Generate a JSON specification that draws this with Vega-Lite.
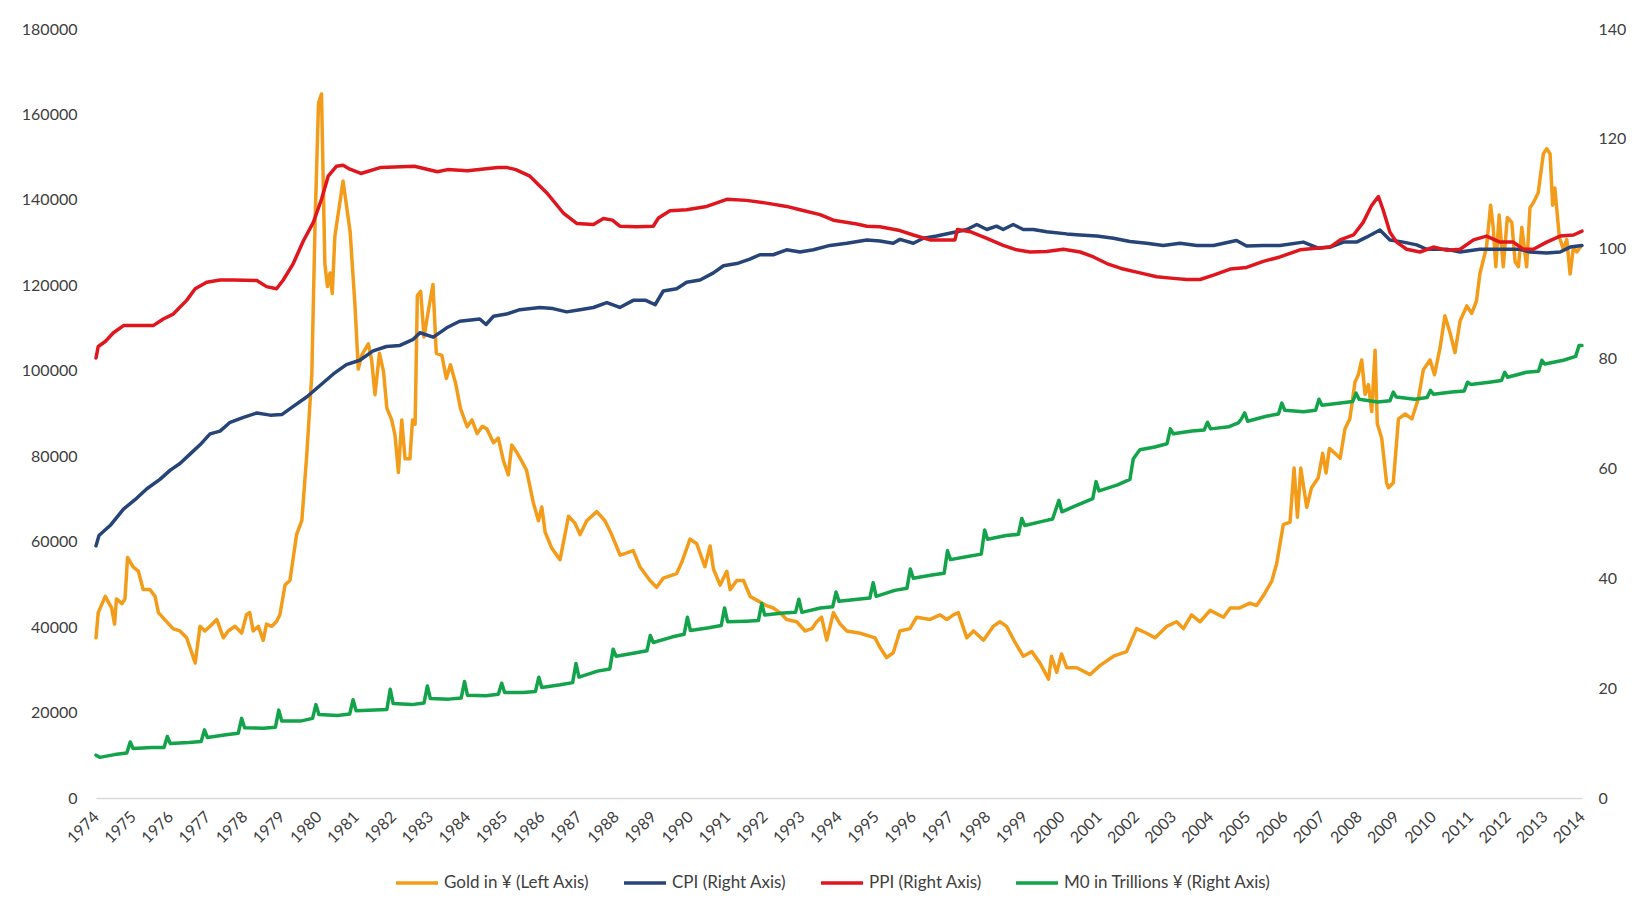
{
"$schema": "https://vega.github.io/schema/vega-lite/v6.json",
"width": 1486,
"height": 769,
"autosize": {"type": "none"},
"padding": {"left": 96, "top": 29, "right": 63, "bottom": 111},
"background": "white",
"config": {"view": {"stroke": null}, "font": "Lato", "line": {"strokeWidth": 3.5, "strokeJoin": "round", "strokeCap": "round"}},
"datasets": {
"gold": [
{"t":1974.0,"v":37500},{"t":1974.06,"v":43400},{"t":1974.25,"v":47200},{"t":1974.42,"v":44500},{"t":1974.5,"v":40700},{"t":1974.55,"v":46600},{"t":1974.7,"v":45500},{"t":1974.78,"v":46600},{"t":1974.85,"v":56300},{"t":1975.0,"v":54100},{"t":1975.14,"v":53100},{"t":1975.27,"v":48800},{"t":1975.45,"v":48800},{"t":1975.59,"v":47200},{"t":1975.68,"v":43400},{"t":1975.9,"v":41300},{"t":1976.08,"v":39600},{"t":1976.26,"v":39100},{"t":1976.44,"v":37500},{"t":1976.67,"v":31600},{"t":1976.8,"v":40200},{"t":1976.93,"v":39100},{"t":1977.07,"v":40200},{"t":1977.25,"v":41800},{"t":1977.43,"v":37500},{"t":1977.56,"v":39100},{"t":1977.74,"v":40200},{"t":1977.92,"v":38600},{"t":1978.05,"v":42900},{"t":1978.14,"v":43400},{"t":1978.23,"v":39100},{"t":1978.37,"v":40200},{"t":1978.5,"v":36900},{"t":1978.59,"v":40700},{"t":1978.73,"v":40200},{"t":1978.86,"v":41300},{"t":1978.95,"v":42900},{"t":1979.09,"v":49900},{"t":1979.22,"v":50900},{"t":1979.4,"v":61700},{"t":1979.54,"v":64900},{"t":1979.67,"v":79900},{"t":1979.81,"v":99300},{"t":1979.9,"v":135800},{"t":1979.99,"v":162700},{"t":1980.07,"v":164800},{"t":1980.16,"v":125100},{"t":1980.23,"v":119700},{"t":1980.3,"v":122900},{"t":1980.36,"v":118100},{"t":1980.43,"v":131500},{"t":1980.65,"v":144400},{"t":1980.84,"v":132600},{"t":1980.97,"v":115400},{"t":1981.06,"v":100400},{"t":1981.15,"v":103600},{"t":1981.33,"v":106300},{"t":1981.42,"v":102500},{"t":1981.51,"v":94400},{"t":1981.63,"v":104100},{"t":1981.74,"v":99800},{"t":1981.83,"v":91200},{"t":1981.96,"v":88500},{"t":1982.05,"v":84800},{"t":1982.14,"v":76200},{"t":1982.23,"v":88500},{"t":1982.32,"v":79400},{"t":1982.45,"v":79400},{"t":1982.52,"v":88500},{"t":1982.59,"v":87500},{"t":1982.65,"v":117600},{"t":1982.74,"v":118600},{"t":1982.83,"v":107900},{"t":1982.95,"v":114300},{"t":1983.07,"v":120200},{"t":1983.16,"v":104100},{"t":1983.31,"v":103600},{"t":1983.43,"v":98200},{"t":1983.54,"v":101400},{"t":1983.68,"v":97100},{"t":1983.81,"v":91200},{"t":1983.99,"v":86900},{"t":1984.12,"v":88500},{"t":1984.26,"v":85300},{"t":1984.4,"v":87000},{"t":1984.52,"v":86400},{"t":1984.7,"v":83160},{"t":1984.83,"v":84240},{"t":1984.97,"v":78860},{"t":1985.1,"v":75640},{"t":1985.19,"v":82620},{"t":1985.32,"v":81010},{"t":1985.46,"v":78860},{"t":1985.59,"v":76710},{"t":1985.77,"v":69190},{"t":1985.91,"v":64890},{"t":1986.0,"v":68110},{"t":1986.09,"v":62200},{"t":1986.27,"v":58440},{"t":1986.49,"v":55750},{"t":1986.72,"v":65960},{"t":1986.89,"v":64350},{"t":1987.03,"v":61660},{"t":1987.21,"v":64890},{"t":1987.48,"v":67040},{"t":1987.7,"v":64890},{"t":1987.88,"v":61660},{"t":1988.11,"v":56830},{"t":1988.29,"v":57370},{"t":1988.46,"v":57900},{"t":1988.64,"v":54140},{"t":1988.91,"v":50920},{"t":1989.09,"v":49310},{"t":1989.27,"v":51460},{"t":1989.63,"v":52530},{"t":1989.77,"v":55220},{"t":1989.99,"v":60590},{"t":1990.17,"v":59520},{"t":1990.39,"v":54140},{"t":1990.53,"v":58980},{"t":1990.62,"v":53600},{"t":1990.8,"v":49840},{"t":1990.98,"v":53070},{"t":1991.07,"v":48770},{"t":1991.25,"v":50920},{"t":1991.43,"v":50920},{"t":1991.61,"v":47160},{"t":1991.83,"v":46080},{"t":1992.05,"v":45010},{"t":1992.23,"v":44470},{"t":1992.41,"v":43400},{"t":1992.59,"v":41790},{"t":1992.86,"v":41250},{"t":1993.09,"v":39100},{"t":1993.27,"v":39640},{"t":1993.4,"v":41250},{"t":1993.53,"v":42320},{"t":1993.67,"v":36950},{"t":1993.85,"v":43400},{"t":1994.03,"v":40710},{"t":1994.21,"v":39100},{"t":1994.57,"v":38560},{"t":1994.97,"v":37490},{"t":1995.1,"v":35300},{"t":1995.28,"v":32870},{"t":1995.46,"v":34000},{"t":1995.64,"v":39100},{"t":1995.91,"v":39640},{"t":1996.09,"v":42320},{"t":1996.45,"v":41790},{"t":1996.72,"v":42860},{"t":1996.9,"v":41790},{"t":1997.08,"v":42860},{"t":1997.21,"v":43400},{"t":1997.44,"v":37490},{"t":1997.62,"v":39100},{"t":1997.89,"v":36950},{"t":1998.15,"v":40170},{"t":1998.33,"v":41250},{"t":1998.51,"v":40170},{"t":1998.74,"v":36410},{"t":1998.96,"v":33190},{"t":1999.19,"v":34260},{"t":1999.41,"v":31570},{"t":1999.64,"v":27820},{"t":1999.72,"v":33190},{"t":1999.86,"v":29430},{"t":1999.99,"v":33720},{"t":2000.13,"v":30500},{"t":2000.4,"v":30500},{"t":2000.76,"v":28890},{"t":2001.03,"v":31040},{"t":2001.39,"v":33190},{"t":2001.74,"v":34260},{"t":2002.01,"v":39640},{"t":2002.28,"v":38560},{"t":2002.51,"v":37490},{"t":2002.82,"v":40170},{"t":2003.09,"v":41250},{"t":2003.27,"v":39640},{"t":2003.49,"v":42860},{"t":2003.72,"v":41250},{"t":2003.99,"v":43930},{"t":2004.35,"v":42320},{"t":2004.53,"v":44470},{"t":2004.79,"v":44500},{"t":2005.06,"v":45620},{"t":2005.24,"v":45040},{"t":2005.42,"v":47340},{"t":2005.65,"v":50790},{"t":2005.78,"v":54810},{"t":2005.96,"v":64010},{"t":2006.14,"v":64590},{"t":2006.25,"v":77240},{"t":2006.34,"v":65740},{"t":2006.43,"v":77240},{"t":2006.59,"v":68040},{"t":2006.72,"v":72640},{"t":2006.9,"v":74940},{"t":2007.02,"v":80690},{"t":2007.11,"v":76090},{"t":2007.2,"v":81830},{"t":2007.35,"v":80690},{"t":2007.49,"v":79540},{"t":2007.62,"v":86440},{"t":2007.75,"v":88730},{"t":2007.89,"v":97360},{"t":2007.98,"v":99080},{"t":2008.07,"v":102530},{"t":2008.16,"v":94480},{"t":2008.25,"v":96780},{"t":2008.34,"v":90460},{"t":2008.43,"v":104830},{"t":2008.49,"v":87580},{"t":2008.61,"v":84130},{"t":2008.74,"v":73790},{"t":2008.79,"v":72640},{"t":2008.92,"v":73790},{"t":2009.06,"v":88730},{"t":2009.24,"v":89880},{"t":2009.42,"v":88730},{"t":2009.59,"v":93330},{"t":2009.73,"v":100230},{"t":2009.91,"v":102530},{"t":2010.03,"v":99080},{"t":2010.18,"v":105410},{"t":2010.31,"v":112880},{"t":2010.45,"v":108860},{"t":2010.58,"v":104250},{"t":2010.72,"v":111730},{"t":2010.9,"v":115180},{"t":2011.03,"v":113450},{"t":2011.16,"v":116330},{"t":2011.25,"v":122650},{"t":2011.43,"v":128970},{"t":2011.54,"v":138740},{"t":2011.61,"v":133570},{"t":2011.68,"v":124370},{"t":2011.77,"v":136440},{"t":2011.88,"v":124370},{"t":2011.99,"v":135870},{"t":2012.11,"v":134720},{"t":2012.2,"v":125520},{"t":2012.29,"v":124370},{"t":2012.38,"v":133570},{"t":2012.51,"v":124370},{"t":2012.6,"v":138170},{"t":2012.69,"v":139320},{"t":2012.82,"v":141620},{"t":2012.96,"v":150820},{"t":2013.05,"v":151970},{"t":2013.14,"v":150820},{"t":2013.21,"v":138740},{"t":2013.27,"v":142770},{"t":2013.39,"v":131270},{"t":2013.5,"v":128400},{"t":2013.59,"v":130700},{"t":2013.68,"v":122650},{"t":2013.77,"v":128970},{"t":2013.86,"v":127820},{"t":2013.96,"v":128970}
],
"cpi": [
{"t":1974.0,"v":45.9},{"t":1974.08,"v":47.8},{"t":1974.38,"v":49.6},{"t":1974.74,"v":52.6},{"t":1975.1,"v":54.6},{"t":1975.37,"v":56.3},{"t":1975.72,"v":58.0},{"t":1976.0,"v":59.7},{"t":1976.26,"v":60.9},{"t":1976.53,"v":62.6},{"t":1976.8,"v":64.3},{"t":1977.07,"v":66.3},{"t":1977.34,"v":66.8},{"t":1977.61,"v":68.4},{"t":1977.97,"v":69.3},{"t":1978.33,"v":70.1},{"t":1978.69,"v":69.7},{"t":1979.0,"v":69.8},{"t":1979.31,"v":71.3},{"t":1979.67,"v":73.0},{"t":1980.03,"v":75.1},{"t":1980.39,"v":77.2},{"t":1980.74,"v":78.9},{"t":1981.1,"v":79.7},{"t":1981.46,"v":81.4},{"t":1981.82,"v":82.2},{"t":1982.18,"v":82.4},{"t":1982.54,"v":83.5},{"t":1982.72,"v":84.7},{"t":1983.08,"v":83.9},{"t":1983.44,"v":85.6},{"t":1983.79,"v":86.8},{"t":1984.33,"v":87.2},{"t":1984.5,"v":86.2},{"t":1984.7,"v":87.7},{"t":1985.05,"v":88.1},{"t":1985.41,"v":88.9},{"t":1985.95,"v":89.3},{"t":1986.3,"v":89.1},{"t":1986.67,"v":88.5},{"t":1987.03,"v":88.9},{"t":1987.39,"v":89.3},{"t":1987.75,"v":90.2},{"t":1988.1,"v":89.3},{"t":1988.46,"v":90.6},{"t":1988.8,"v":90.6},{"t":1989.05,"v":89.8},{"t":1989.27,"v":92.3},{"t":1989.63,"v":92.7},{"t":1989.9,"v":93.9},{"t":1990.26,"v":94.3},{"t":1990.62,"v":95.6},{"t":1990.89,"v":96.9},{"t":1991.25,"v":97.3},{"t":1991.6,"v":98.1},{"t":1991.87,"v":98.9},{"t":1992.23,"v":98.9},{"t":1992.59,"v":99.8},{"t":1992.95,"v":99.4},{"t":1993.31,"v":99.8},{"t":1993.76,"v":100.6},{"t":1994.21,"v":101.0},{"t":1994.75,"v":101.6},{"t":1995.1,"v":101.4},{"t":1995.46,"v":101.0},{"t":1995.64,"v":101.7},{"t":1996.0,"v":101.0},{"t":1996.27,"v":101.9},{"t":1996.63,"v":102.3},{"t":1997.17,"v":103.1},{"t":1997.44,"v":103.5},{"t":1997.71,"v":104.4},{"t":1997.98,"v":103.5},{"t":1998.24,"v":104.1},{"t":1998.42,"v":103.5},{"t":1998.69,"v":104.4},{"t":1998.96,"v":103.5},{"t":1999.23,"v":103.5},{"t":1999.59,"v":103.1},{"t":2000.13,"v":102.7},{"t":2000.49,"v":102.5},{"t":2000.94,"v":102.3},{"t":2001.39,"v":101.9},{"t":2001.83,"v":101.3},{"t":2002.28,"v":101.0},{"t":2002.73,"v":100.6},{"t":2003.18,"v":101.0},{"t":2003.63,"v":100.6},{"t":2004.08,"v":100.6},{"t":2004.7,"v":101.5},{"t":2004.97,"v":100.5},{"t":2005.42,"v":100.6},{"t":2005.87,"v":100.6},{"t":2006.5,"v":101.2},{"t":2006.9,"v":100.1},{"t":2007.22,"v":100.3},{"t":2007.58,"v":101.2},{"t":2007.93,"v":101.2},{"t":2008.2,"v":102.1},{"t":2008.56,"v":103.4},{"t":2008.83,"v":101.6},{"t":2009.19,"v":101.2},{"t":2009.55,"v":100.7},{"t":2009.82,"v":99.9},{"t":2010.36,"v":99.9},{"t":2010.72,"v":99.4},{"t":2011.25,"v":99.9},{"t":2011.79,"v":99.9},{"t":2012.33,"v":99.9},{"t":2012.6,"v":99.4},{"t":2013.05,"v":99.2},{"t":2013.41,"v":99.4},{"t":2013.68,"v":100.3},{"t":2014.0,"v":100.6}
],
"ppi": [
{"t":1974.0,"v":80.1},{"t":1974.06,"v":82.2},{"t":1974.25,"v":83.1},{"t":1974.47,"v":84.7},{"t":1974.74,"v":86.0},{"t":1975.0,"v":86.0},{"t":1975.54,"v":86.0},{"t":1975.81,"v":87.2},{"t":1976.08,"v":88.1},{"t":1976.44,"v":90.6},{"t":1976.67,"v":92.7},{"t":1976.98,"v":93.9},{"t":1977.34,"v":94.3},{"t":1977.7,"v":94.3},{"t":1978.33,"v":94.2},{"t":1978.59,"v":93.1},{"t":1978.86,"v":92.7},{"t":1979.04,"v":94.3},{"t":1979.31,"v":97.3},{"t":1979.58,"v":101.4},{"t":1979.85,"v":104.8},{"t":1980.07,"v":109.0},{"t":1980.25,"v":113.2},{"t":1980.47,"v":115.0},{"t":1980.65,"v":115.2},{"t":1980.8,"v":114.6},{"t":1981.13,"v":113.7},{"t":1981.67,"v":114.8},{"t":1982.57,"v":115.0},{"t":1983.19,"v":114.0},{"t":1983.46,"v":114.4},{"t":1984.0,"v":114.2},{"t":1984.81,"v":114.8},{"t":1985.05,"v":114.8},{"t":1985.3,"v":114.4},{"t":1985.68,"v":113.2},{"t":1986.13,"v":110.2},{"t":1986.58,"v":106.5},{"t":1986.94,"v":104.6},{"t":1987.39,"v":104.4},{"t":1987.66,"v":105.5},{"t":1987.9,"v":105.2},{"t":1988.1,"v":104.1},{"t":1988.55,"v":104.0},{"t":1989.0,"v":104.1},{"t":1989.14,"v":105.6},{"t":1989.45,"v":106.9},{"t":1989.9,"v":107.1},{"t":1990.44,"v":107.7},{"t":1990.98,"v":109.0},{"t":1991.51,"v":108.8},{"t":1992.05,"v":108.3},{"t":1992.59,"v":107.7},{"t":1992.95,"v":107.1},{"t":1993.49,"v":106.2},{"t":1993.85,"v":105.2},{"t":1994.48,"v":104.5},{"t":1994.75,"v":104.1},{"t":1995.1,"v":104.0},{"t":1995.64,"v":103.3},{"t":1996.0,"v":102.5},{"t":1996.45,"v":101.6},{"t":1997.12,"v":101.6},{"t":1997.19,"v":103.5},{"t":1997.53,"v":103.1},{"t":1997.98,"v":101.9},{"t":1998.42,"v":100.6},{"t":1998.78,"v":99.8},{"t":1999.14,"v":99.4},{"t":1999.59,"v":99.5},{"t":2000.04,"v":99.9},{"t":2000.49,"v":99.4},{"t":2000.85,"v":98.5},{"t":2001.21,"v":97.3},{"t":2001.65,"v":96.3},{"t":2002.1,"v":95.6},{"t":2002.55,"v":94.9},{"t":2003.0,"v":94.6},{"t":2003.36,"v":94.4},{"t":2003.72,"v":94.4},{"t":2004.08,"v":95.2},{"t":2004.53,"v":96.3},{"t":2004.97,"v":96.6},{"t":2005.42,"v":97.7},{"t":2005.87,"v":98.5},{"t":2006.41,"v":99.8},{"t":2006.7,"v":100.0},{"t":2007.22,"v":100.3},{"t":2007.49,"v":101.6},{"t":2007.85,"v":102.5},{"t":2008.11,"v":104.8},{"t":2008.34,"v":107.9},{"t":2008.52,"v":109.5},{"t":2008.65,"v":107.0},{"t":2008.83,"v":103.0},{"t":2009.01,"v":101.2},{"t":2009.28,"v":99.9},{"t":2009.64,"v":99.4},{"t":2010.0,"v":100.3},{"t":2010.36,"v":99.7},{"t":2010.72,"v":99.9},{"t":2011.08,"v":101.6},{"t":2011.43,"v":102.3},{"t":2011.79,"v":101.2},{"t":2012.15,"v":101.2},{"t":2012.42,"v":99.9},{"t":2012.69,"v":99.9},{"t":2013.05,"v":101.2},{"t":2013.41,"v":102.3},{"t":2013.77,"v":102.5},{"t":2014.0,"v":103.2}
],
"m0": [
{"t":1974.0,"v":7.8},{"t":1974.1,"v":7.4},{"t":1974.5,"v":7.9},{"t":1974.83,"v":8.2},{"t":1974.92,"v":10.2},{"t":1975.0,"v":9.0},{"t":1975.5,"v":9.2},{"t":1975.83,"v":9.2},{"t":1975.92,"v":11.2},{"t":1976.0,"v":9.9},{"t":1976.5,"v":10.1},{"t":1976.83,"v":10.3},{"t":1976.92,"v":12.4},{"t":1977.0,"v":11.0},{"t":1977.5,"v":11.5},{"t":1977.83,"v":11.8},{"t":1977.92,"v":14.5},{"t":1978.0,"v":12.8},{"t":1978.5,"v":12.7},{"t":1978.83,"v":12.9},{"t":1978.92,"v":16.0},{"t":1979.0,"v":14.0},{"t":1979.5,"v":14.0},{"t":1979.83,"v":14.5},{"t":1979.92,"v":17.0},{"t":1980.0,"v":15.2},{"t":1980.5,"v":15.0},{"t":1980.83,"v":15.3},{"t":1980.92,"v":17.9},{"t":1981.0,"v":15.9},{"t":1981.5,"v":16.0},{"t":1981.83,"v":16.1},{"t":1981.92,"v":19.8},{"t":1982.0,"v":17.2},{"t":1982.5,"v":17.0},{"t":1982.83,"v":17.3},{"t":1982.92,"v":20.4},{"t":1983.0,"v":18.1},{"t":1983.5,"v":18.0},{"t":1983.83,"v":18.2},{"t":1983.92,"v":21.2},{"t":1984.0,"v":18.7},{"t":1984.5,"v":18.6},{"t":1984.83,"v":18.9},{"t":1984.92,"v":20.9},{"t":1985.0,"v":19.2},{"t":1985.5,"v":19.2},{"t":1985.83,"v":19.4},{"t":1985.92,"v":22.0},{"t":1986.0,"v":20.1},{"t":1986.5,"v":20.6},{"t":1986.83,"v":21.0},{"t":1986.92,"v":24.5},{"t":1987.0,"v":22.0},{"t":1987.5,"v":23.1},{"t":1987.83,"v":23.5},{"t":1987.92,"v":27.1},{"t":1988.0,"v":25.8},{"t":1988.5,"v":26.4},{"t":1988.83,"v":26.8},{"t":1988.92,"v":29.6},{"t":1989.0,"v":28.3},{"t":1989.5,"v":29.3},{"t":1989.83,"v":29.8},{"t":1989.92,"v":32.9},{"t":1990.0,"v":30.5},{"t":1990.5,"v":31.0},{"t":1990.83,"v":31.4},{"t":1990.92,"v":34.6},{"t":1991.0,"v":32.1},{"t":1991.5,"v":32.2},{"t":1991.83,"v":32.3},{"t":1991.92,"v":35.4},{"t":1992.0,"v":33.3},{"t":1992.5,"v":33.7},{"t":1992.83,"v":33.8},{"t":1992.92,"v":36.2},{"t":1993.0,"v":33.8},{"t":1993.5,"v":34.6},{"t":1993.83,"v":34.8},{"t":1993.92,"v":37.5},{"t":1994.0,"v":35.8},{"t":1994.5,"v":36.2},{"t":1994.83,"v":36.4},{"t":1994.92,"v":39.2},{"t":1995.0,"v":36.7},{"t":1995.5,"v":37.8},{"t":1995.83,"v":38.2},{"t":1995.92,"v":41.7},{"t":1996.0,"v":40.0},{"t":1996.5,"v":40.6},{"t":1996.83,"v":40.9},{"t":1996.92,"v":45.0},{"t":1997.0,"v":43.4},{"t":1997.5,"v":44.0},{"t":1997.83,"v":44.4},{"t":1997.92,"v":48.8},{"t":1998.0,"v":47.1},{"t":1998.5,"v":47.8},{"t":1998.83,"v":48.0},{"t":1998.92,"v":50.9},{"t":1999.0,"v":49.6},{"t":1999.5,"v":50.4},{"t":1999.75,"v":50.8},{"t":1999.92,"v":54.2},{"t":2000.0,"v":52.1},{"t":2000.3,"v":53.0},{"t":2000.83,"v":54.5},{"t":2000.92,"v":57.6},{"t":2001.0,"v":55.9},{"t":2001.5,"v":57.0},{"t":2001.83,"v":58.0},{"t":2001.92,"v":61.7},{"t":2002.0,"v":62.5},{"t":2002.1,"v":63.4},{"t":2002.5,"v":63.9},{"t":2002.83,"v":64.5},{"t":2002.92,"v":67.2},{"t":2003.0,"v":66.3},{"t":2003.5,"v":66.8},{"t":2003.83,"v":67.0},{"t":2003.92,"v":68.4},{"t":2004.0,"v":67.2},{"t":2004.5,"v":67.6},{"t":2004.75,"v":68.3},{"t":2004.83,"v":69.0},{"t":2004.92,"v":70.1},{"t":2005.0,"v":68.6},{"t":2005.5,"v":69.5},{"t":2005.83,"v":69.9},{"t":2005.92,"v":71.9},{"t":2006.0,"v":70.6},{"t":2006.5,"v":70.3},{"t":2006.83,"v":70.6},{"t":2006.92,"v":72.6},{"t":2007.0,"v":71.5},{"t":2007.5,"v":71.9},{"t":2007.83,"v":72.2},{"t":2007.92,"v":73.7},{"t":2008.0,"v":72.6},{"t":2008.5,"v":72.1},{"t":2008.83,"v":72.3},{"t":2008.92,"v":73.9},{"t":2009.0,"v":73.0},{"t":2009.5,"v":72.6},{"t":2009.83,"v":72.9},{"t":2009.92,"v":74.2},{"t":2010.0,"v":73.5},{"t":2010.5,"v":73.9},{"t":2010.83,"v":74.1},{"t":2010.92,"v":75.7},{"t":2011.0,"v":75.3},{"t":2011.5,"v":75.7},{"t":2011.83,"v":76.0},{"t":2011.92,"v":77.5},{"t":2012.0,"v":76.6},{"t":2012.5,"v":77.5},{"t":2012.83,"v":77.7},{"t":2012.92,"v":79.7},{"t":2013.0,"v":79.0},{"t":2013.5,"v":79.7},{"t":2013.83,"v":80.4},{"t":2013.92,"v":82.4},{"t":2014.0,"v":82.4}
]
},
"encoding": {
"x": {"field": "t", "type": "quantitative", "scale": {"domain": [1974, 2014], "nice": false, "zero": false},
"axis": {"title": null, "values": [1974,1975,1976,1977,1978,1979,1980,1981,1982,1983,1984,1985,1986,1987,1988,1989,1990,1991,1992,1993,1994,1995,1996,1997,1998,1999,2000,2001,2002,2003,2004,2005,2006,2007,2008,2009,2010,2011,2012,2013,2014], "format": "d", "labelAngle": -45, "labelAlign": "right", "labelBaseline": "middle", "labelPadding": 16, "labelFlush": false, "labelOverlap": false, "labelBound": false, "ticks": false, "grid": false, "domainColor": "#D9D9D9", "domainWidth": 1.3, "labelFontSize": 16, "labelColor": "#404040", "labelFont": "Lato"}}
},
"layer": [
{
"data": {"name": "gold"},
"mark": {"type": "line"},
"encoding": {
"y": {"field": "v", "type": "quantitative", "scale": {"domain": [0, 180000], "nice": false}, "axis": {"title": null, "values": [0,20000,40000,60000,80000,100000,120000,140000,160000,180000], "format": "d", "domain": false, "ticks": false, "grid": false, "labelPadding": 19, "labelFontSize": 16, "labelColor": "#404040", "labelFont": "Lato"}},
"color": {"datum": "Gold in ¥ (Left Axis)", "type": "nominal",
"scale": {"domain": ["Gold in ¥ (Left Axis)", "CPI (Right Axis)", "PPI (Right Axis)", "M0 in Trillions ¥ (Right Axis)"], "range": ["#F39C1A", "#264478", "#E0161E", "#13A34A"]},
"legend": {"orient": "none", "legendX": 298, "legendY": 831, "direction": "horizontal", "title": null, "symbolType": "stroke", "symbolStrokeWidth": 4, "symbolSize": 1764, "labelFontSize": 17, "labelFont": "Lato", "labelOffset": 4, "columnPadding": 32, "labelColor": "#404040", "labelLimit": 400}}
}
},
{
"encoding": {
"y": {"field": "v", "type": "quantitative", "scale": {"domain": [0, 140], "nice": false}, "axis": {"orient": "right", "title": null, "values": [0,20,40,60,80,100,120,140], "format": "d", "domain": false, "ticks": false, "grid": false, "labelPadding": 16, "labelFontSize": 16, "labelColor": "#404040", "labelFont": "Lato"}}
},
"layer": [
{"data": {"name": "cpi"}, "mark": {"type": "line"}, "encoding": {"color": {"datum": "CPI (Right Axis)", "type": "nominal"}}},
{"data": {"name": "ppi"}, "mark": {"type": "line"}, "encoding": {"color": {"datum": "PPI (Right Axis)", "type": "nominal"}}},
{"data": {"name": "m0"}, "mark": {"type": "line"}, "encoding": {"color": {"datum": "M0 in Trillions ¥ (Right Axis)", "type": "nominal"}}}
]
}
],
"resolve": {"scale": {"y": "independent"}}
}
